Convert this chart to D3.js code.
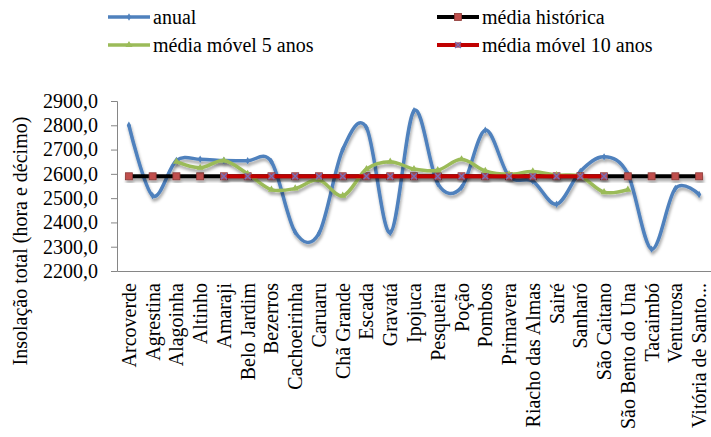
<!DOCTYPE html>
<html>
<head>
<meta charset="utf-8">
<script src="https://cdn.jsdelivr.net/npm/d3@7"></script>
<style>
  body { margin: 0; background: #fff; }
  svg text { font-family: "Liberation Serif", Tinos, "Times New Roman", Times, "DejaVu Serif", serif !important; }
</style>
</head>
<body>
<div id="chart-area"></div>
<script>
// categories (municipios)
var municipios = ["Arcoverde", "Agrestina", "Alagoinha", "Altinho", "Amaraji", "Belo Jardim",
  "Bezerros", "Cachoeirinha", "Caruaru", "Chã Grande", "Escada", "Gravatá", "Ipojuca",
  "Pesqueira", "Poção", "Pombos", "Primavera", "Riacho das Almas", "Sairé", "Sanharó",
  "São Caitano", "São Bento do Una", "Tacaimbó", "Venturosa", "Vitória de Santo..."];

// series values
var anual = [2800, 2510, 2655, 2660, 2655, 2654, 2650, 2360, 2355, 2700, 2790, 2358, 2860,
  2560, 2545, 2780, 2590, 2570, 2475, 2610, 2670, 2600, 2290, 2540, 2515];
var media5 = [null, null, 2650, 2625, 2655, 2600, 2535, 2540, 2575, 2510, 2620, 2650, 2620,
  2615, 2660, 2612, 2598, 2610, 2595, 2590, 2525, 2535, null, null, null];
var historica = municipios.map(function(){ return 2590; });
var media10 = [null, null, null, null, 2590, 2590, 2590, 2590, 2590, 2590, 2590, 2590, 2590,
  2590, 2590, 2590, 2590, 2590, 2590, 2590, 2590, null, null, null, null];

var yTicks = [2200, 2300, 2400, 2500, 2600, 2700, 2800, 2900];

var margin = {left:117, right:0, top:101, bottom:166};
var width = 711 - margin.left - margin.right,
    height = 437 - margin.top - margin.bottom;

var svg = d3.select("#chart-area")
  .append("svg")
    .attr("width", 711)
    .attr("height", 437);

// shadow like the excel effect
var defs = svg.append("defs");
var f = defs.append("filter").attr("id", "shadow")
  .attr("x", "-5%").attr("y", "-20%").attr("width", "110%").attr("height", "160%");
f.append("feDropShadow").attr("dx", 1).attr("dy", 3).attr("stdDeviation", 1.8)
  .attr("flood-color", "#000").attr("flood-opacity", 0.35);

var group = svg.append("g")
  .attr("transform", "translate(" + margin.left + ", " + margin.top + ")");

var x = d3.scaleBand()
  .domain(municipios)
  .range([0, width])
  .paddingInner(0)
  .paddingOuter(0);

var y = d3.scaleLinear()
  .domain([2200, 2900])
  .range([height, 0]);

// y axis
var yAxisCall = d3.axisLeft(y)
  .tickValues(yTicks)
  .tickSize(6)
  .tickPadding(13)
  .tickFormat(function(d){ return d3.format(".1f")(d).replace(".", ","); });
var yAxis = group.append("g").attr("class", "y axis").call(yAxisCall);
yAxis.attr("font-family", null);
yAxis.select(".domain").attr("stroke", "#868686");
yAxis.selectAll(".tick line").attr("stroke", "#868686");
yAxis.selectAll("text").attr("font-size", "20px").attr("fill", "#000");

// x axis
var xAxisCall = d3.axisBottom(x).tickSize(0).tickSizeOuter(0);
var xAxis = group.append("g")
  .attr("class", "x axis")
  .attr("transform", "translate(0, " + height + ")")
  .call(xAxisCall);
xAxis.attr("font-family", null);
xAxis.select(".domain").attr("stroke", "#868686");
xAxis.selectAll("text")
  .attr("font-size", "20px")
  .attr("fill", "#000")
  .attr("text-anchor", "end")
  .attr("x", -12)
  .attr("y", 0)
  .attr("dy", "0.35em")
  .attr("transform", "rotate(-90)");

// y label
svg.append("text")
  .attr("transform", "translate(27, 241) rotate(-90)")
  .attr("text-anchor", "middle")
  .attr("font-size", "20px")
  .text("Insolação total (hora e décimo)");

function pts(arr) {
  return arr.map(function(v, i){ return {name: municipios[i], v: v}; });
}

var series = [
  {key: "anual", values: anual, color: "#4f81bd", width: 3.5, marker: "diamond", smooth: true},
  {key: "média móvel 5 anos", values: media5, color: "#9bbb59", width: 3.5, marker: "triangle", smooth: true},
  {key: "média histórica", values: historica, color: "#000000", width: 4, marker: "square", smooth: false},
  {key: "média móvel 10 anos", values: media10, color: "#c00000", width: 4, marker: "x", smooth: false}
];

function drawMarker(g, type, cx, cy) {
  if (type === "square") {
    g.append("rect").attr("x", cx - 3.5).attr("y", cy - 3.5).attr("width", 7).attr("height", 7)
      .attr("fill", "#c0504d").attr("stroke", "#8c3836").attr("stroke-width", 0.8);
  } else if (type === "x") {
    g.append("rect").attr("x", cx - 3).attr("y", cy - 3).attr("width", 6).attr("height", 6)
      .attr("fill", "#a8556e").attr("opacity", 0.7);
    g.append("path").attr("d", "M" + (cx - 3) + "," + (cy - 3) + "L" + (cx + 3) + "," + (cy + 3) +
      "M" + (cx + 3) + "," + (cy - 3) + "L" + (cx - 3) + "," + (cy + 3))
      .attr("stroke", "#7a6fb5").attr("stroke-width", 1.2);
  } else if (type === "triangle") {
    g.append("path").attr("d", d3.symbol().type(d3.symbolTriangle).size(22)())
      .attr("transform", "translate(" + cx + "," + cy + ")").attr("fill", "#9bbb59");
  } else {
    g.append("path").attr("d", d3.symbol().type(d3.symbolDiamond).size(16)())
      .attr("transform", "translate(" + cx + "," + cy + ")").attr("fill", "#4f81bd");
  }
}

var order = [series[0], series[2], series[1], series[3]];
order.forEach(function(s) {
  var g = group.append("g").attr("filter", "url(#shadow)");
  var l = d3.line()
    .defined(function(d){ return d.v != null; })
    .x(function(d){ return x(d.name) + x.bandwidth() / 2; })
    .y(function(d){ return y(d.v); })
    .curve(s.smooth ? d3.curveCardinal.tension(0) : d3.curveLinear);
  g.append("path")
    .datum(pts(s.values))
    .attr("d", l)
    .attr("fill", "none")
    .attr("stroke", s.color)
    .attr("stroke-width", s.width)
    .attr("stroke-linejoin", "round");
  pts(s.values).forEach(function(d){
    if (d.v == null) return;
    drawMarker(g, s.marker, x(d.name) + x.bandwidth() / 2, y(d.v));
  });
});

// legend
var legendPos = [
  {s: series[0], x: 108, y: 17},
  {s: series[2], x: 437, y: 17},
  {s: series[1], x: 108, y: 45},
  {s: series[3], x: 437, y: 45}
];
legendPos.forEach(function(p) {
  var lg = svg.append("g");
  lg.append("line").attr("x1", p.x).attr("x2", p.x + 42).attr("y1", p.y).attr("y2", p.y)
    .attr("stroke", p.s.color).attr("stroke-width", p.s.width);
  drawMarker(lg, p.s.marker, p.x + 21, p.y);
  lg.append("text").attr("x", p.x + 45).attr("y", p.y).attr("dy", "0.33em")
    .attr("font-size", "20px").text(p.s.key);
});
</script>
</body>
</html>
